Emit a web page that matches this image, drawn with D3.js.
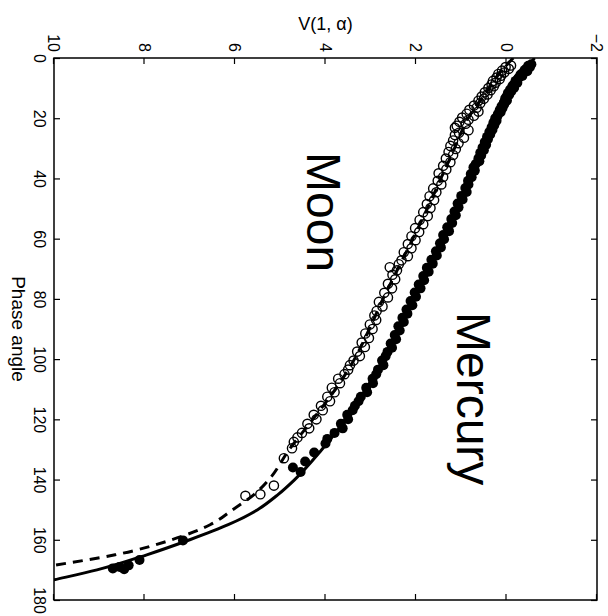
<!DOCTYPE html>
<html>
<head>
<meta charset="utf-8">
<script src="https://cdn.jsdelivr.net/npm/d3@7"></script>
<style>
  body { margin: 0; background: #fff; }
  svg { display: block; font-family: "Liberation Sans", Arial, Helvetica, sans-serif; }
</style>
</head>
<body>
<div id="chart"></div>
<script>
// Tick values for both axes
const phaseTicks = [0, 20, 40, 60, 80, 100, 120, 140, 160, 180];
const magTicks = [10, 8, 6, 4, 2, 0, -2];

// Fitted curves: [phase angle, V(1,a)]
const mercuryFit = [[0,-0.62],[5,-0.36],[10,-0.12],[15,0.05],[20,0.22],[30,0.52],[40,0.80],[50,1.10],
  [60,1.42],[70,1.75],[80,2.08],[90,2.40],[100,2.72],[110,3.10],[120,3.55],[130,4.08],[140,4.68],
  [145,5.05],[150,5.50],[155,6.15],[160,7.00],[165,7.95],[170,9.05],[173.3,10.0],[175,10.5]];

const moonFit = [[0,-0.15],[5,0.15],[10,0.38],[15,0.62],[20,0.85],[25,1.01],[30,1.15],[40,1.45],
  [50,1.75],[60,2.07],[70,2.40],[80,2.73],[90,3.03],[100,3.36],[110,3.78],[120,4.28],[130,4.80],
  [140,5.25],[145,5.58],[150,6.05],[155,6.55],[160,7.40],[165,8.65],[168.5,10.0],[170,10.6]];

// Observations: Mercury (filled) and Moon (open)
const mercuryObs = [[2.1,-0.55],[2.6,-0.48],[3.0,-0.52],[3.5,-0.44],[4.0,-0.40],[4.4,-0.46],[5.0,-0.36],
  [5.5,-0.31],[6.0,-0.35],[6.5,-0.27],[7.0,-0.25],[7.6,-0.20],[8.2,-0.24],[8.8,-0.16],[9.3,-0.13],
  [9.9,-0.17],[10.5,-0.08],[11.0,-0.11],[11.6,-0.03],[12.2,-0.06],[12.8,0.00],[13.5,0.03],[14.1,-0.01],
  [14.8,0.06],[15.4,0.05],[16.0,0.11],[16.7,0.09],[17.3,0.15],[18.0,0.13],[18.6,0.19],[19.3,0.20],
  [20.0,0.25],[20.8,0.22],[21.5,0.29],[22.3,0.27],[23.0,0.33],[23.8,0.31],[24.6,0.38],[25.4,0.36],
  [26.2,0.43],[27.0,0.41],[27.9,0.48],[28.8,0.45],[29.7,0.53],[30.6,0.50],[31.5,0.58],[32.4,0.56],
  [33.3,0.62],[34.3,0.60],[35.2,0.68],[36.3,0.73],[37.4,0.70],[38.5,0.79],[39.6,0.77],[40.8,0.85],
  [42.0,0.84],[43.2,0.91],[44.5,0.88],[45.8,1.00],[47.0,0.97],[48.3,1.08],[49.6,1.06],[51.0,1.15],
  [52.2,1.12],[53.5,1.22],[54.8,1.20],[56.2,1.31],[57.5,1.27],[58.8,1.40],[60.2,1.38],[61.5,1.47],
  [62.9,1.45],[64.2,1.56],[65.6,1.54],[67.0,1.66],[68.3,1.63],[69.7,1.76],[71.0,1.72],[72.4,1.84],
  [73.8,1.82],[75.2,1.94],[76.5,1.90],[77.9,2.03],[79.3,2.00],[80.7,2.12],[82.1,2.08],[83.5,2.21],
  [84.9,2.19],[86.3,2.30],[87.7,2.27],[89.1,2.39],[90.5,2.36],[92.0,2.47],[93.4,2.44],[94.8,2.56],
  [96.2,2.53],[97.6,2.63],[99.0,2.67],[100.5,2.75],[102.0,2.72],[103.5,2.84],[105.0,2.88],[106.5,2.96],
  [108.0,2.95],[109.5,3.10],[111.0,3.08],[112.5,3.22],[114.0,3.27],[115.5,3.35],[117.0,3.40],
  [118.5,3.52],[120.0,3.50],[121.5,3.66],[123.0,3.62],[124.5,3.80],[126.5,3.96],[128.0,4.00],
  [131.0,4.25],[134.0,4.45],[136.0,4.72],[137.5,4.55],[160.2,7.15],[166.7,8.11],[168.5,8.35],
  [169.0,8.55],[169.5,8.70],[169.8,8.45]];

const moonObs = [[2.5,-0.10],[3.0,0.02],[3.6,-0.05],[4.2,0.10],[4.8,0.05],[5.3,0.18],[5.9,0.12],
  [6.5,0.22],[7.0,0.15],[7.6,0.30],[8.2,0.24],[8.8,0.33],[9.4,0.28],[10.0,0.40],[10.7,0.35],[11.4,0.48],
  [12.1,0.42],[12.8,0.55],[13.5,0.50],[14.2,0.62],[15.0,0.58],[15.8,0.72],[16.5,0.66],[17.2,0.82],
  [17.8,0.62],[18.5,0.88],[19.2,0.72],[19.8,0.98],[20.5,0.84],[21.2,1.04],[21.8,0.90],[22.5,1.10],
  [23.2,1.14],[24.0,0.84],[24.8,1.05],[25.6,1.14],[26.5,0.94],[27.4,1.18],[28.3,1.06],[29.2,1.24],
  [30.2,1.12],[31.2,1.28],[32.2,1.18],[33.4,1.34],[34.6,1.24],[35.8,1.40],[37.0,1.33],[38.3,1.50],
  [39.5,1.40],[40.8,1.52],[42.0,1.44],[43.3,1.62],[44.6,1.55],[45.9,1.70],[47.2,1.60],[48.5,1.76],
  [49.8,1.68],[51.2,1.84],[52.5,1.74],[53.8,1.92],[55.2,1.84],[56.5,2.02],[57.8,1.93],[59.2,2.10],
  [60.5,2.01],[61.8,2.18],[63.2,2.10],[64.5,2.27],[65.8,2.18],[67.2,2.32],[68.5,2.38],[69.5,2.58],
  [70.5,2.42],[72.0,2.52],[73.5,2.46],[75.0,2.62],[76.5,2.53],[78.0,2.70],[79.5,2.62],[81.0,2.82],
  [82.5,2.74],[84.0,2.87],[85.5,2.92],[87.0,2.88],[88.5,3.02],[90.0,2.96],[91.5,3.12],[93.0,3.04],
  [94.5,3.20],[96.0,3.13],[97.5,3.30],[99.0,3.24],[100.5,3.38],[102.0,3.46],[103.5,3.50],[105.0,3.58],
  [106.5,3.72],[108.0,3.68],[109.5,3.86],[111.0,3.80],[112.5,3.96],[114.0,3.90],[115.5,4.10],
  [117.0,4.06],[118.5,4.26],[120.0,4.20],[121.5,4.40],[123.0,4.36],[124.5,4.52],[126.0,4.62],
  [127.5,4.70],[129.6,4.74],[132.9,4.92],[142.0,5.14],[144.9,5.44],[145.4,5.77]];

const W = 608, H = 616;
// plot box on the page (the figure is drawn turned a quarter turn clockwise)
const box = { left: 54, right: 597, top: 58, bottom: 600 };
const pw = box.bottom - box.top;   // phase-angle axis length
const ph = box.right - box.left;   // magnitude axis length

const svg = d3.select("#chart").append("svg")
  .attr("width", W)
  .attr("height", H);

const g = svg.append("g")
  .attr("transform", `translate(${box.right},${box.top}) rotate(90)`);

const x = d3.scaleLinear().domain([0, 180]).range([0, pw]);
const y = d3.scaleLinear().domain([-2, 10]).range([0, ph]);

// Axes, ticks pointing inward on all four sides
const styleAxis = (sel) => {
  sel.attr("font-size", 16).attr("font-family", null);
  sel.select(".domain").remove();
  sel.selectAll(".tick line").attr("stroke", "#000").attr("stroke-width", 1.2);
  sel.selectAll(".tick text").attr("fill", "#000");
};

g.append("g")
  .attr("transform", `translate(0,${ph})`)
  .call(d3.axisBottom(x).tickValues(phaseTicks).tickSizeInner(-6).tickSizeOuter(0).tickPadding(9))
  .call(styleAxis);

g.append("g")
  .call(d3.axisTop(x).tickValues(phaseTicks).tickSizeInner(-6).tickSizeOuter(0).tickFormat(""))
  .call(styleAxis);

g.append("g")
  .call(d3.axisLeft(y).tickValues(magTicks).tickSizeInner(-6).tickSizeOuter(0).tickPadding(6))
  .call(styleAxis);

g.append("g")
  .attr("transform", `translate(${pw},0)`)
  .call(d3.axisRight(y).tickValues(magTicks).tickSizeInner(-6).tickSizeOuter(0).tickFormat(""))
  .call(styleAxis);

// Clip for the curves
g.append("clipPath").attr("id", "plotClip")
  .append("rect").attr("width", pw).attr("height", ph);

const line = d3.line()
  .x(d => x(d[0]))
  .y(d => y(d[1]))
  .curve(d3.curveMonotoneX);

const curves = g.append("g").attr("clip-path", "url(#plotClip)");

curves.append("path")
  .datum(mercuryFit)
  .attr("d", line)
  .attr("fill", "none")
  .attr("stroke", "#000")
  .attr("stroke-width", 3);

curves.append("path")
  .datum(moonFit)
  .attr("d", line)
  .attr("fill", "none")
  .attr("stroke", "#000")
  .attr("stroke-width", 3)
  .attr("stroke-dasharray", "10,7");

// Moon points (open)
g.append("g").selectAll("circle")
  .data(moonObs)
  .enter().append("circle")
  .attr("cx", d => x(d[0]))
  .attr("cy", d => y(d[1]))
  .attr("r", 4.6)
  .attr("fill", "none")
  .attr("stroke", "#000")
  .attr("stroke-width", 1.4);

// Mercury points (filled)
g.append("g").selectAll("circle")
  .data(mercuryObs)
  .enter().append("circle")
  .attr("cx", d => x(d[0]))
  .attr("cy", d => y(d[1]))
  .attr("r", 5)
  .attr("fill", "#000");

// Box
g.append("rect")
  .attr("width", pw)
  .attr("height", ph)
  .attr("fill", "none")
  .attr("stroke", "#000")
  .attr("stroke-width", 1.5);

// Axis labels
g.append("text")
  .attr("x", pw / 2)
  .attr("y", ph + 42)
  .attr("text-anchor", "middle")
  .attr("font-size", 19)
  .text("Phase angle");

g.append("text")
  .attr("transform", `translate(-28,${ph / 2}) rotate(-90)`)
  .attr("text-anchor", "middle")
  .attr("font-size", 18)
  .text("V(1, α)");

// Body names
g.append("text")
  .attr("x", 94)
  .attr("y", 290)
  .attr("font-size", 48)
  .text("Moon");

g.append("text")
  .attr("x", 254)
  .attr("y", 140)
  .attr("font-size", 48)
  .text("Mercury");
</script>
</body>
</html>
